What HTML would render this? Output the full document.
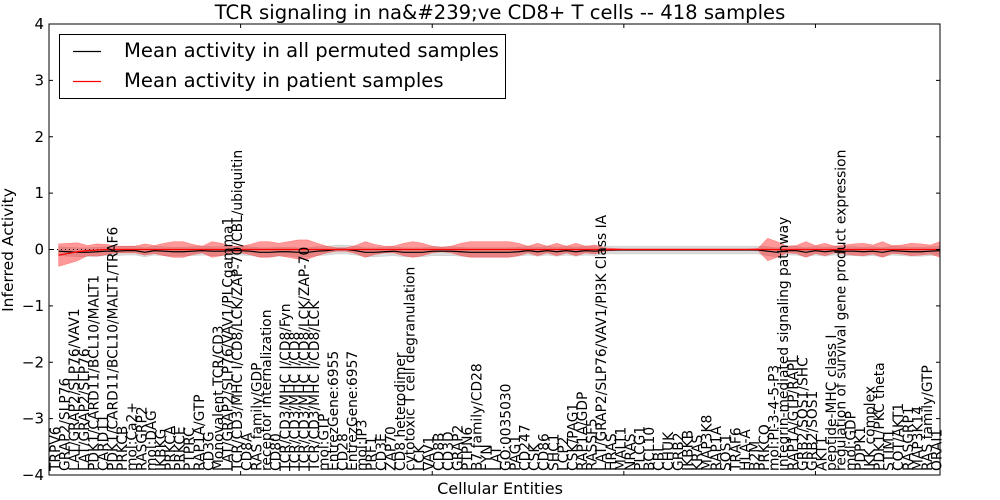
<!DOCTYPE html>
<html><head><meta charset="utf-8">
<style>
html,body{margin:0;padding:0;background:#fff;}
svg{display:block;font-family:"DejaVu Sans","Liberation Sans",sans-serif;}
</style></head>
<body>
<svg id="chart" width="1000" height="500" viewBox="0 0 1000 500"></svg>
<script>
const categories = ["TRPV6","GRAP2/SLP76","LAT/GRAP2/SLP76/VAV1","LAT/GRAP2/SLP76","PDK1/CARD11/BCL10/MALT1","CARD11","PDK1/CARD11/BCL10/MALT1/TRAF6","PRKCB","mol:Ca2+","RASGRP2","mol:DAG","IKBKG","PRKCA","PRKCE","PTPRC","RAP1A/GTP","CD3G","Monovalent TCR/CD3","LAT/GRAP2/SLP76/VAV1/PLCgamma1","TCR/CD3/MHC I/CD8/LCK/ZAP-70/CBL/ubiquitin","CD8A","RAS family/GDP","receptor internalization","CD80","TCR/CD3/MHC I/CD8/Fyn","TCR/CD3/MHC I/CD8","TCR/CD3/MHC I/CD8/LCK/ZAP-70","TCR/CD3/MHC I/CD8/LCK","mol:GTP","EntrezGene:6955","CD28","EntrezGene:6957","mol:IP3","PRF1","CD3E","ZAP70","CD8 heterodimer","cytotoxic T cell degranulation","LCK","VAV1","CD8B","CD3D","GRAP2","PTPN6","B7 family/CD28","FYN","LAT","GO:0035030","PAG1","CD247","CSK","CD86","SHC1","LCP2","CSK/PAG1","RAP1A/GDP","RASSF5","LAT/GRAP2/SLP76/VAV1/PI3K Class IA","HRAS","MALT1","NRAS","PLCG1","BCL10","CBL","CHUK","GRB2","IKBKB","KRAS","MAP3K8","RAP1A","SOS1","TRAF6","HLA-A","B2M","PRKCQ","mol:PI-3-4-5-P3","integrin-mediated signaling pathway","RAP1A/GTP/RAPL","GRB2/SOS1/SHC","GRB2/SOS1","AKT1","peptide-MHC class I","regulation of survival gene product expression","mol:GDP","PDPK1","IKK complex","PDK1/PKC theta","STIM1","COT/AKT1","RASGRP1","MAP3K14","RAS family/GTP","ORAI1"];
const patientMean = [-0.1,-0.07,-0.04,-0.02,-0.01,0,0,0,0,0,0,0,0,0,0,0,0,0,0,0,0,0,0,0,0,0,0,0,0,0,0,0,0,0,0,0,0,0,0,0,0,0,0,0,0,0,0,0,0,0,0,0,0,0,0,0,0,0,0,0,0,0,0,0,0,0,0,0,0,0,0,0,0,0,0,0,0,0,0,0,0,0,0,0,0,0,0,0,0,0,0,0,0];
const patientSD = [0.2,0.18,0.16,0.09,0.11,0.09,0.06,0.06,0.06,0.1,0.07,0.11,0.14,0.14,0.09,0.06,0.14,0.11,0.06,0.06,0.09,0.14,0.14,0.11,0.14,0.17,0.17,0.11,0.06,0.03,0.03,0.07,0.14,0.09,0.06,0.06,0.11,0.14,0.11,0.06,0.04,0.06,0.11,0.14,0.14,0.14,0.14,0.14,0.11,0.06,0.11,0.06,0.11,0.06,0.11,0.06,0.08,0.03,0.02,0.01,0.01,0.01,0.01,0.01,0.01,0.01,0.01,0.01,0.01,0.01,0.01,0.01,0.01,0.02,0.2,0.14,0.06,0.07,0.14,0.07,0.11,0.06,0.08,0.1,0.11,0.08,0.14,0.07,0.08,0.11,0.1,0.08,0.14];
const permMean = [-0.03,-0.04,-0.05,-0.05,-0.04,-0.03,-0.03,-0.02,-0.02,-0.05,-0.02,-0.03,-0.04,-0.04,-0.03,-0.02,-0.03,-0.03,-0.02,-0.02,-0.03,-0.05,-0.05,-0.04,-0.04,-0.05,-0.05,-0.03,-0.02,0,0,-0.02,-0.05,-0.05,-0.04,-0.03,-0.05,-0.05,-0.05,-0.03,-0.03,-0.03,-0.04,-0.05,-0.05,-0.05,-0.05,-0.05,-0.04,-0.02,-0.04,-0.02,-0.04,-0.02,-0.04,-0.02,-0.03,-0.01,-0.01,-0.01,-0.01,-0.01,-0.01,-0.01,-0.01,-0.01,-0.01,-0.01,-0.01,-0.01,-0.01,-0.01,-0.01,-0.01,-0.03,-0.05,-0.02,-0.02,-0.05,-0.02,-0.04,-0.02,-0.03,-0.03,-0.04,-0.03,-0.05,-0.02,-0.03,-0.04,-0.04,-0.03,-0.02];
const permSD = [0.08,0.08,0.08,0.08,0.08,0.08,0.08,0.08,0.08,0.08,0.08,0.08,0.08,0.08,0.08,0.08,0.08,0.08,0.08,0.08,0.08,0.08,0.08,0.08,0.08,0.08,0.08,0.08,0.08,0.08,0.08,0.08,0.08,0.08,0.08,0.08,0.08,0.08,0.08,0.08,0.08,0.08,0.08,0.08,0.08,0.08,0.08,0.08,0.08,0.08,0.08,0.08,0.08,0.08,0.08,0.08,0.08,0.07,0.07,0.07,0.07,0.07,0.07,0.07,0.07,0.07,0.07,0.07,0.07,0.07,0.07,0.07,0.07,0.07,0.08,0.08,0.08,0.08,0.08,0.08,0.08,0.08,0.08,0.08,0.08,0.08,0.08,0.08,0.08,0.08,0.08,0.08,0.08];
const yTicks = [4,3,2,1,0,-1,-2,-3,-4];
const yTickLabels = ["4","3","2","1","0","\u22121","\u22122","\u22123","\u22124"];
const xTicks = [20,40,60,80];

const L=49,R=940,T=24,B=475;
const n = categories.length;
function xs(k){return L+k*(R-L)/n;}
function ys(v){return T+(4-v)*(B-T)/8;}
const NS="http://www.w3.org/2000/svg";
const svg=document.getElementById('chart');
function mk(tag,attrs,parent){const e=document.createElementNS(NS,tag);for(const k in attrs)e.setAttribute(k,attrs[k]);(parent||svg).appendChild(e);return e;}

function band(mean,sd,fill,op,name){
  let top=[],bot=[];
  for(let i=0;i<n;i++){top.push(xs(i+1)+','+ys(mean[i]+sd[i]));}
  for(let i=n-1;i>=0;i--){bot.push(xs(i+1)+','+ys(mean[i]-sd[i]));}
  const p=mk('polygon',{points:top.concat(bot).join(' '),fill:fill,'fill-opacity':op,stroke:fill,'stroke-opacity':op,'stroke-width':0.5});
  
  
}
band(permMean,permSD,'#999999',0.35,'permuted-band');
band(patientMean,patientSD,'#ff0000',0.4,'patient-band');

const z=mk('line',{x1:L,x2:R,y1:ys(0),y2:ys(0),stroke:'#000','stroke-width':1,'stroke-dasharray':'1,3'});



function line(mean,color,name){
  const pts=[];for(let i=0;i<n;i++)pts.push(xs(i+1)+','+ys(mean[i]));
  const p=mk('polyline',{points:pts.join(' '),fill:'none',stroke:color,'stroke-width':1.2});
  
  
}
line(permMean,'#000000','permuted-mean-line');
line(patientMean,'#ff0000','patient-mean-line');

const fr=mk('rect',{x:L,y:T,width:R-L,height:B-T,fill:'none',stroke:'#000','stroke-width':1});



yTicks.forEach((v,i)=>{
  const y=ys(v);
  mk('line',{x1:L,x2:L+4,y1:y,y2:y,stroke:'#000'});
  mk('line',{x1:R-4,x2:R,y1:y,y2:y,stroke:'#000'});
  const t=mk('text',{x:L-5,y:y+5,'text-anchor':'end','font-size':15});
  t.textContent=yTickLabels[i];
  
  
});
xTicks.forEach(k=>{
  mk('line',{x1:xs(k),x2:xs(k),y1:T,y2:T+4,stroke:'#000'});
  mk('line',{x1:xs(k),x2:xs(k),y1:B-4,y2:B,stroke:'#000'});
});

categories.forEach((c,i)=>{
  const x=xs(i+1)+1.5, y=471;
  const t=mk('text',{transform:'translate('+x+','+y+') rotate(-90)','font-size':13.8});
  t.textContent=c;
  
  
});

let t=mk('text',{x:500,y:19,'text-anchor':'middle','font-size':19.6});
t.textContent='TCR signaling in na&#239;ve CD8+ T cells -- 418 samples';


t=mk('text',{x:500,y:494,'text-anchor':'middle','font-size':16});
t.textContent='Cellular Entities';


t=mk('text',{transform:'translate(13,250) rotate(-90)','text-anchor':'middle','font-size':15.5});
t.textContent='Inferred Activity';



const lg=mk('g',{});


mk('rect',{x:59.5,y:34.5,width:446,height:64,fill:'#fff',stroke:'#000','stroke-width':1},lg);
mk('line',{x1:73,x2:101,y1:51.5,y2:51.5,stroke:'#000','stroke-width':1.2},lg);
mk('line',{x1:73,x2:101,y1:81.5,y2:81.5,stroke:'#f00','stroke-width':1.2},lg);
t=mk('text',{x:124,y:57,'font-size':19.6},lg);
t.textContent='Mean activity in all permuted samples';


t=mk('text',{x:124,y:87,'font-size':19.6},lg);
t.textContent='Mean activity in patient samples';


</script>
</body></html>
